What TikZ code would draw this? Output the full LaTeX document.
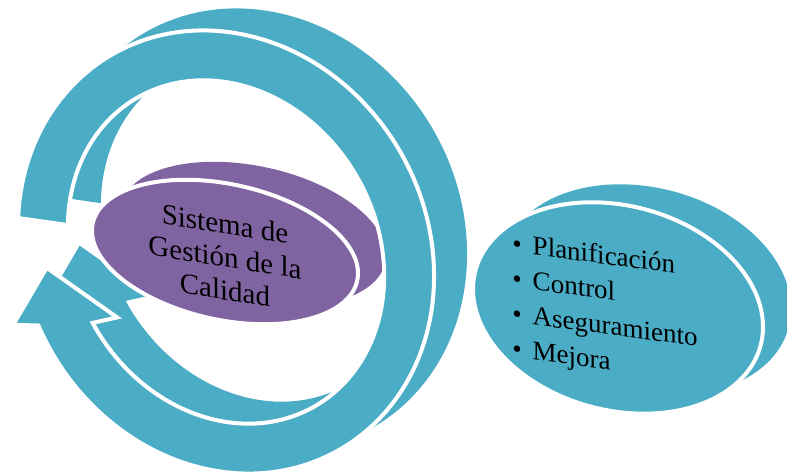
\documentclass[tikz,border=0pt]{standalone}
\usepackage{fontspec}
\setmainfont{Liberation Serif}
\usepackage{tikz}
\usetikzlibrary{shapes.geometric}
\definecolor{aqua}{HTML}{4BACC6}
\definecolor{lilac}{HTML}{8064A2}

% outline of the big circular arrow, in a frame turned along its long axis
\newcommand\cyclepath{(234.2:228 and 201)
    arc[start angle=234.2, end angle=-97.6, x radius=228, y radius=201]
    -- (258.9:225) -- (245:180) -- (271:127) -- (-91.7:178 and 151)
    arc[start angle=-91.7, end angle=234.9, x radius=178, y radius=151] -- cycle}

\begin{document}
\begin{tikzpicture}[x=1pt,y=1pt,
    backside/.style={fill=#1},
    frontside/.style={fill=#1,draw=white,line width=4pt},
    oval/.style={ellipse,inner sep=0pt,minimum width=#1}]
\useasboundingbox (0,0) rectangle (787,474);
\tikzstyle{sgcoval}=[oval=266pt,minimum height=138pt,yslant=-0.16]
\tikzstyle{listoval}=[oval=290pt,minimum height=208pt,yslant=-0.13]

% purple disc, rear
\node[sgcoval,backside=lilac] (sgcback) at (253,240) {};
% arrow, rear then front
\begin{scope}[shift={(259,244)},rotate=-60]
\fill[aqua] \cyclepath;
\end{scope}
\begin{scope}[shift={(226,222)},rotate=-60]
\path[frontside=aqua] \cyclepath;
\end{scope}
% purple disc, front
\node[sgcoval,frontside=lilac] (sgc) at (225,222) {};
\node[yslant=-0.16,align=center,font=\fontsize{29}{33}\selectfont]
    (sgctext) at ([yshift=-5pt]sgc.center)
    {Sistema de\\Gestión de la\\Calidad};
% teal disc with the four items
\node[listoval,backside=aqua] (listback) at (646,184) {};
\node[listoval,frontside=aqua] (list) at (618,166) {};
\node[yslant=-0.13,align=left,font=\fontsize{27}{35}\selectfont]
    (items) at ([xshift=-13pt,yshift=-2pt]list.center)
    {\textbullet\hspace{11pt}Planificación\\
     \textbullet\hspace{11pt}Control\\
     \textbullet\hspace{11pt}Aseguramiento\\
     \textbullet\hspace{11pt}Mejora};
\end{tikzpicture}
\end{document}
